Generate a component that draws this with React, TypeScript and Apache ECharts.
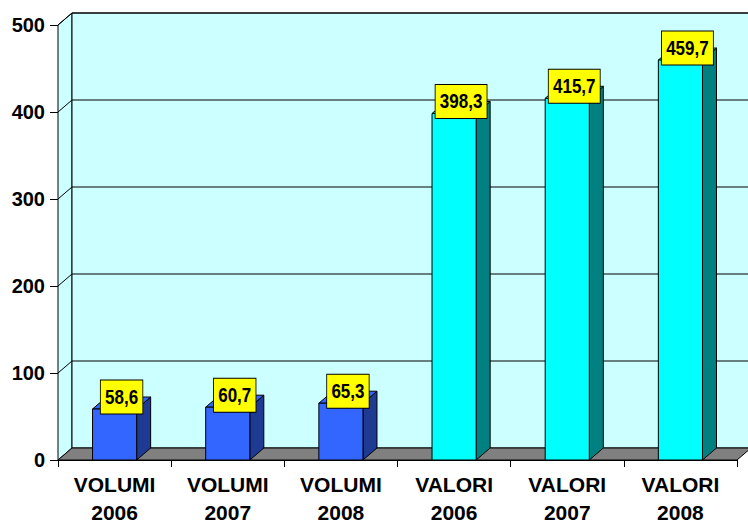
import React, { useEffect, useRef } from "react";
import * as echarts from "echarts";

// Categories and values of the chart
const categories = [
  "VOLUMI\n2006",
  "VOLUMI\n2007",
  "VOLUMI\n2008",
  "VALORI\n2006",
  "VALORI\n2007",
  "VALORI\n2008",
];
const values = [58.6, 60.7, 65.3, 398.3, 415.7, 459.7];
const yMin = 0;
const yMax = 500;
const yStep = 100;

// 3D depth offset of the walls and bars (pixels)
const DX = 14;
const DY = 12;

const WALL = "#CCFFFF";
const FLOOR = "#808080";
const faceColors = [
  { front: "#3366FF", side: "#1F3A93", top: "#3366FF" },
  { front: "#3366FF", side: "#1F3A93", top: "#3366FF" },
  { front: "#3366FF", side: "#1F3A93", top: "#3366FF" },
  { front: "#00FFFF", side: "#008080", top: "#00FFFF" },
  { front: "#00FFFF", side: "#008080", top: "#00FFFF" },
  { front: "#00FFFF", side: "#008080", top: "#00FFFF" },
];

const fmt = (v: number) => v.toFixed(1).replace(".", ",");

export default function App() {
  const ref = useRef<HTMLDivElement>(null);

  useEffect(() => {
    if (!ref.current) return;
    const chart = echarts.init(ref.current, null, { renderer: "svg" });

    const wallsRender = (params: any, api: any) => {
      const cs = params.coordSys;
      const x0 = cs.x;
      const x1 = cs.x + cs.width;
      const yB = api.coord([0, yMin])[1];
      const yT = api.coord([0, yMax])[1];
      const children: any[] = [];
      const line = { stroke: "#000", lineWidth: 1 };
      // left side wall
      children.push({
        type: "polygon",
        shape: { points: [[x0, yB], [x0, yT], [x0 + DX, yT - DY], [x0 + DX, yB - DY]] },
        style: { fill: WALL, stroke: "#000", lineWidth: 1 },
      });
      // back wall
      children.push({
        type: "rect",
        shape: { x: x0 + DX, y: yT - DY, width: x1 - x0 + 4, height: yB - yT },
        style: { fill: WALL, stroke: "#000", lineWidth: 1 },
      });
      // gridlines on back and side walls
      for (let v = yMin + yStep; v <= yMax; v += yStep) {
        const y = api.coord([0, v])[1];
        children.push({
          type: "line",
          shape: { x1: x0 + DX, y1: y - DY, x2: x1 + DX + 4, y2: y - DY },
          style: line,
        });
        children.push({
          type: "line",
          shape: { x1: x0, y1: y, x2: x0 + DX, y2: y - DY },
          style: line,
        });
      }
      // floor
      children.push({
        type: "polygon",
        shape: { points: [[x0, yB], [x1, yB], [x1 + DX, yB - DY], [x0 + DX, yB - DY]] },
        style: { fill: FLOOR, stroke: "#000", lineWidth: 1 },
      });
      return { type: "group", children };
    };

    const barsRender = (params: any, api: any) => {
      const idx = api.value(0);
      const val = api.value(1);
      const top = api.coord([idx, val]);
      const base = api.coord([idx, yMin]);
      const band = api.size([1, 0])[0];
      const w = band * 0.39;
      const xl = top[0] - w / 2;
      const xr = top[0] + w / 2;
      const yt = top[1];
      const yb = base[1];
      const c = faceColors[params.dataIndex];
      const stroke = { stroke: "#000", lineWidth: 1 };
      return {
        type: "group",
        children: [
          {
            type: "polygon",
            shape: { points: [[xr, yb], [xr, yt], [xr + DX, yt - DY], [xr + DX, yb - DY]] },
            style: { fill: c.side, ...stroke },
          },
          {
            type: "polygon",
            shape: { points: [[xl, yt], [xr, yt], [xr + DX, yt - DY], [xl + DX, yt - DY]] },
            style: { fill: c.top, ...stroke },
          },
          {
            type: "rect",
            shape: { x: xl, y: yt, width: w, height: yb - yt },
            style: { fill: c.front, ...stroke },
          },
          {
            // value tag: yellow box, condensed bold figures
            type: "text",
            x: top[0] + DX / 2,
            y: yt - DY,
            scaleX: 0.85,
            style: {
              text: fmt(val),
              fontFamily: "'Liberation Sans', Arial, sans-serif",
              fontWeight: "bold",
              fontSize: 20,
              lineHeight: 20,
              fill: "#000",
              align: "center",
              verticalAlign: "middle",
              backgroundColor: "#FFFF00",
              borderColor: "#000",
              borderWidth: 1,
              padding: [7, 5, 6, 5],
            },
            z2: 10,
          },
        ],
      };
    };

    chart.setOption({
      animation: false,
      backgroundColor: "#FFFFFF",
      grid: { left: 58, right: 11, top: 25, bottom: 61, containLabel: false },
      xAxis: {
        type: "category",
        data: categories,
        boundaryGap: true,
        axisLine: { show: true, lineStyle: { color: "#000", width: 1 } },
        axisTick: { show: true, length: 7, lineStyle: { color: "#000" } },
        axisLabel: {
          color: "#000",
          fontFamily: "'Liberation Sans', Arial, sans-serif",
          fontWeight: "bold",
          fontSize: 21,
          lineHeight: 28,
          margin: 10,
          interval: 0,
        },
        splitLine: { show: false },
      },
      yAxis: {
        type: "value",
        min: yMin,
        max: yMax,
        interval: yStep,
        axisLine: { show: true, lineStyle: { color: "#000", width: 1 } },
        axisTick: { show: true, length: 8, lineStyle: { color: "#000" } },
        axisLabel: {
          color: "#000",
          fontFamily: "'Liberation Sans', Arial, sans-serif",
          fontWeight: "bold",
          fontSize: 20,
          margin: 13,
        },
        splitLine: { show: false },
      },
      series: [
        {
          type: "custom",
          name: "walls",
          renderItem: wallsRender,
          data: [[0, 0]],
          clip: false,
          silent: true,
          z: 1,
        },
        {
          type: "custom",
          name: "bars",
          renderItem: barsRender,
          data: values.map((v, i) => [i, v]),
          clip: false,
          z: 2,
        },
      ],
    });

    return () => chart.dispose();
  }, []);

  return (
    <div
      ref={ref}
      style={{ position: "fixed", left: 0, top: 0, width: 748, height: 526 }}
    />
  );
}
